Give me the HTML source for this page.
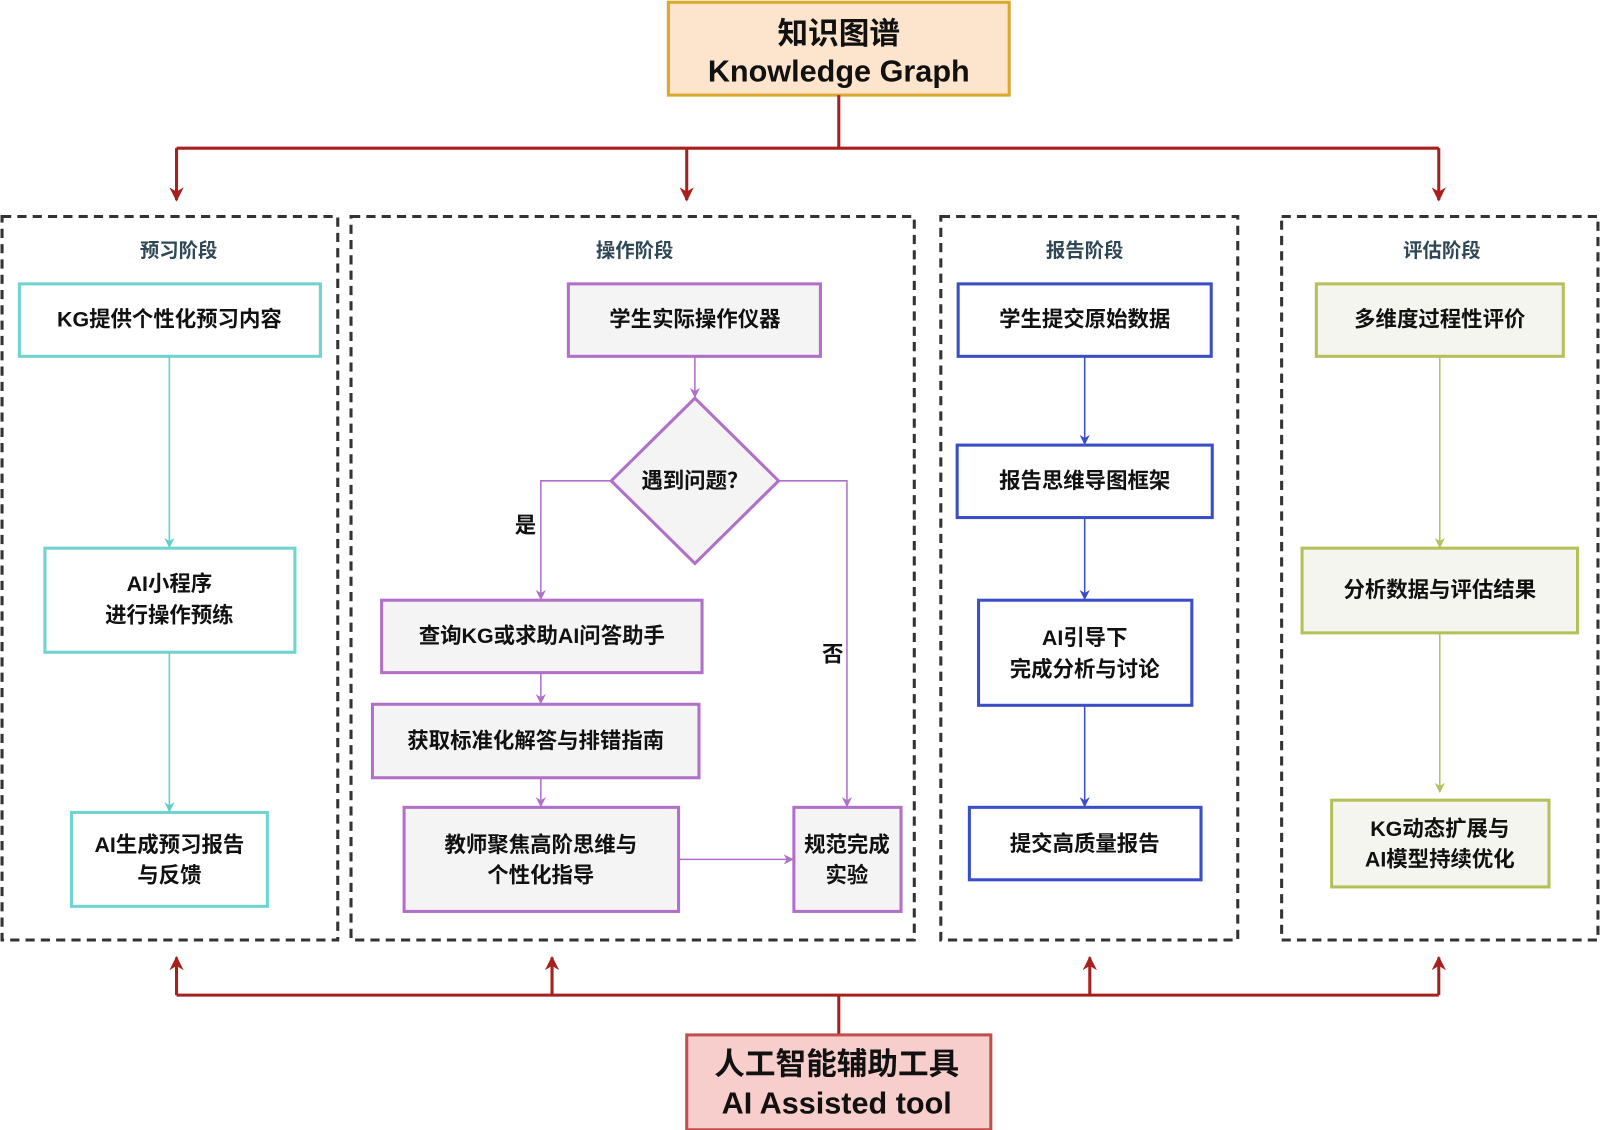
<!DOCTYPE html>
<html><head><meta charset="utf-8"><style>
html,body{margin:0;padding:0;background:#fff;}
svg{display:block;}
text{font-family:"Liberation Sans","Noto Sans CJK SC",sans-serif;fill:#111;text-anchor:middle;dominant-baseline:central;}
.n{font-size:21px;font-weight:bold;}
.t{font-size:19px;font-weight:bold;fill:#2f4756;}
.h{font-size:30px;font-weight:600;}
</style></head><body>
<svg width="1600" height="1130" viewBox="0 0 1568 1107" xmlns="http://www.w3.org/2000/svg">
<defs>
<marker id="rr" viewBox="0 0 10 10" refX="9" refY="5" markerWidth="14" markerHeight="14" orient="auto" markerUnits="userSpaceOnUse"><path d="M0,0 L10,5 L0,10 L3,5 z" fill="#a8201e"/></marker>
<marker id="tl" viewBox="0 0 10 10" refX="9" refY="5" markerWidth="10" markerHeight="10" orient="auto" markerUnits="userSpaceOnUse"><path d="M0,0 L10,5 L0,10 L3,5 z" fill="#5fcfca"/></marker>
<marker id="pu" viewBox="0 0 10 10" refX="9" refY="5" markerWidth="10" markerHeight="10" orient="auto" markerUnits="userSpaceOnUse"><path d="M0,0 L10,5 L0,10 L3,5 z" fill="#b070c8"/></marker>
<marker id="bl" viewBox="0 0 10 10" refX="9" refY="5" markerWidth="10" markerHeight="10" orient="auto" markerUnits="userSpaceOnUse"><path d="M0,0 L10,5 L0,10 L3,5 z" fill="#3a4ec8"/></marker>
<marker id="ol" viewBox="0 0 10 10" refX="9" refY="5" markerWidth="10" markerHeight="10" orient="auto" markerUnits="userSpaceOnUse"><path d="M0,0 L10,5 L0,10 L3,5 z" fill="#b5c05a"/></marker>
</defs>

<rect x="655" y="2" width="334" height="91" fill="#fde4cc" stroke="#dba72c" stroke-width="3"/>
<text class="h" x="822" y="33">知识图谱</text>
<text class="h" x="822" y="70">Knowledge Graph</text>
<g stroke="#a8201e" stroke-width="3" fill="none">
<path d="M822,93 V145 M173,145 H1410"/>
<path d="M173,145 V196" marker-end="url(#rr)"/>
<path d="M673,145 V196" marker-end="url(#rr)"/>
<path d="M1410,145 V196" marker-end="url(#rr)"/>
<path d="M822,1014 V975 M173,975 H1410"/>
<path d="M173,975 V938" marker-end="url(#rr)"/>
<path d="M541,975 V938" marker-end="url(#rr)"/>
<path d="M1068,975 V938" marker-end="url(#rr)"/>
<path d="M1410,975 V938" marker-end="url(#rr)"/>
</g>

<g fill="none" stroke="#333" stroke-width="3" stroke-dasharray="9,6">
<rect x="2" y="212" width="329" height="709"/>
<rect x="344" y="212" width="552" height="709"/>
<rect x="922" y="212" width="291" height="709"/>
<rect x="1256" y="212" width="310" height="709"/>
</g>
<text class="t" x="175" y="246">预习阶段</text>
<text class="t" x="622" y="246">操作阶段</text>
<text class="t" x="1063" y="246">报告阶段</text>
<text class="t" x="1413" y="246">评估阶段</text>

<g fill="#fff" stroke="#6fd4cf" stroke-width="3">
<rect x="19" y="278" width="295" height="71"/>
<rect x="44" y="537" width="245" height="102"/>
<rect x="70" y="796" width="192" height="92"/>
</g>
<g stroke="#5fcfca" stroke-width="1.5">
<path d="M166,349 V536" marker-end="url(#tl)"/>
<path d="M166,639 V795" marker-end="url(#tl)"/>
</g>
<text class="n" x="166" y="313">KG提供个性化预习内容</text>
<text class="n" x="166" y="572">AI小程序</text>
<text class="n" x="166" y="603">进行操作预练</text>
<text class="n" x="166" y="828">AI生成预习报告</text>
<text class="n" x="166" y="858">与反馈</text>

<g fill="#f4f4f4" stroke="#b070c8" stroke-width="3">
<rect x="557" y="278" width="247" height="71"/>
<polygon points="681,390 763,471 681,552 599,471"/>
<rect x="374" y="588" width="314" height="71"/>
<rect x="365" y="690" width="320" height="72"/>
<rect x="396" y="791" width="269" height="102"/>
<rect x="778" y="791" width="105" height="102"/>
</g>
<g stroke="#b070c8" stroke-width="1.5" fill="none">
<path d="M681,349 V389" marker-end="url(#pu)"/>
<path d="M599,471 H530 V587" marker-end="url(#pu)"/>
<path d="M530,659 V689" marker-end="url(#pu)"/>
<path d="M530,762 V790" marker-end="url(#pu)"/>
<path d="M763,471 H830 V790" marker-end="url(#pu)"/>
<path d="M665,842 H777" marker-end="url(#pu)"/>
</g>
<text class="n" x="681" y="313">学生实际操作仪器</text>
<text class="n" x="681" y="471">遇到问题？</text>
<text class="n" x="515" y="515">是</text>
<text class="n" x="816" y="641">否</text>
<text class="n" x="531" y="623">查询KG或求助AI问答助手</text>
<text class="n" x="525" y="726">获取标准化解答与排错指南</text>
<text class="n" x="530" y="828">教师聚焦高阶思维与</text>
<text class="n" x="530" y="858">个性化指导</text>
<text class="n" x="830" y="828">规范完成</text>
<text class="n" x="830" y="858">实验</text>

<g fill="#fff" stroke="#3a4ec8" stroke-width="3">
<rect x="939" y="278" width="248" height="71"/>
<rect x="938" y="436" width="250" height="71"/>
<rect x="959" y="588" width="209" height="103"/>
<rect x="950" y="791" width="227" height="71"/>
</g>
<g stroke="#3a4ec8" stroke-width="1.5">
<path d="M1063,349 V435" marker-end="url(#bl)"/>
<path d="M1063,507 V587" marker-end="url(#bl)"/>
<path d="M1063,691 V790" marker-end="url(#bl)"/>
</g>
<text class="n" x="1063" y="313">学生提交原始数据</text>
<text class="n" x="1063" y="471">报告思维导图框架</text>
<text class="n" x="1063" y="625">AI引导下</text>
<text class="n" x="1063" y="656">完成分析与讨论</text>
<text class="n" x="1063" y="827">提交高质量报告</text>

<g fill="#f5f5f0" stroke="#b5c05a" stroke-width="3">
<rect x="1290" y="278" width="242" height="71"/>
<rect x="1276" y="537" width="270" height="83"/>
<rect x="1305" y="784" width="213" height="85"/>
</g>
<g stroke="#b5c05a" stroke-width="1.5">
<path d="M1411,349 V536" marker-end="url(#ol)"/>
<path d="M1411,620 V776" marker-end="url(#ol)"/>
</g>
<text class="n" x="1411" y="313">多维度过程性评价</text>
<text class="n" x="1411" y="578">分析数据与评估结果</text>
<text class="n" x="1411" y="812">KG动态扩展与</text>
<text class="n" x="1411" y="842">AI模型持续优化</text>

<rect x="673" y="1014" width="298" height="93" fill="#f8cecc" stroke="#c0504d" stroke-width="3"/>
<text class="h" x="820" y="1043">人工智能辅助工具</text>
<text class="h" x="820" y="1081">AI Assisted tool</text>
</svg>
</body></html>
